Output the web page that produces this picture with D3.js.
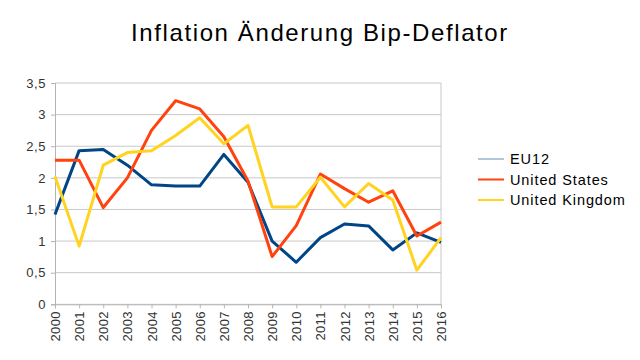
<!DOCTYPE html>
<html><head><meta charset="utf-8">
<script src="https://cdn.jsdelivr.net/npm/d3@7"></script>
<style>body{margin:0;background:#fff}svg{display:block}text{font-family:"Liberation Sans",Arial,sans-serif}</style>
</head><body><svg id="c" width="640" height="360"></svg>
<script>
const years = [2000,2001,2002,2003,2004,2005,2006,2007,2008,2009,2010,2011,2012,2013,2014,2015,2016];
const eu12 = [1.42,2.43,2.45,2.2,1.89,1.87,1.87,2.37,1.93,1.0,0.665,1.055,1.27,1.24,0.86,1.13,0.98];
const us   = [2.28,2.28,1.53,2.0,2.75,3.22,3.09,2.65,1.95,0.755,1.245,2.06,1.83,1.615,1.795,1.08,1.30];
const uk   = [2.02,0.92,2.2,2.4,2.43,2.67,2.95,2.54,2.83,1.54,1.54,2.01,1.54,1.91,1.65,0.54,1.055];
const seriesNames = ["EU12","United States","United Kingdom"];
const colors = ["#004586","#ff420e","#ffd320"];
const yTicks = [0,0.5,1,1.5,2,2.5,3,3.5];
const title = "Inflation Änderung Bip-Deflator";

const svg = d3.select("#c");
const L=55,R=441,T=83,B=304.3;
const x = d3.scalePoint().domain(years).range([L,R]);
const y = d3.scaleLinear().domain([0,3.5]).range([B,T]);

svg.append("text").attr("x",320).attr("y",41).attr("text-anchor","middle")
  .attr("font-size",24).attr("letter-spacing",1.6).attr("fill","#000").text(title);

// grid
svg.append("g").selectAll("line").data(yTicks).join("line")
  .attr("x1",L).attr("x2",R).attr("y1",d=>y(d)).attr("y2",d=>y(d))
  .attr("stroke","#c8c8c8").attr("stroke-width",1);
svg.append("line").attr("x1",R).attr("x2",R).attr("y1",T).attr("y2",B).attr("stroke","#c8c8c8");

const fmt = d=>String(d).replace(".",",");
const ya = svg.append("g").attr("transform",`translate(${L},0)`)
  .call(d3.axisLeft(y).tickValues(yTicks).tickFormat(fmt).tickSize(4).tickPadding(5));
ya.select(".domain").attr("stroke","#b4b4b4");
ya.selectAll(".tick line").attr("stroke","#b4b4b4");
ya.selectAll("text").attr("font-size",13).attr("letter-spacing",0.6).attr("fill","#333").attr("font-family","Liberation Sans, Arial, sans-serif");

const xa = svg.append("g").attr("transform",`translate(0,${B})`)
  .call(d3.axisBottom(x).tickSize(4).tickPadding(3));
xa.select(".domain").attr("stroke","#b4b4b4");
xa.selectAll(".tick line").attr("stroke","#b4b4b4");
xa.selectAll("text").attr("font-size",13).attr("letter-spacing",0.3).attr("fill","#333").attr("font-family","Liberation Sans, Arial, sans-serif")
  .attr("transform","rotate(-90)").attr("text-anchor","end").attr("dy","0.35em").attr("y",0).attr("x",-7);

const data = [eu12,us,uk];
const line = d3.line().x((d,i)=>x(years[i])).y(d=>y(d));
svg.append("g").selectAll("path").data(data).join("path")
  .attr("d",line).attr("fill","none").attr("stroke",(d,i)=>colors[i])
  .attr("stroke-width",3).attr("stroke-linejoin","round");

const lg = svg.append("g").selectAll("g").data(seriesNames).join("g")
  .attr("transform",(d,i)=>`translate(478,${159+i*20.5})`);
lg.append("line").attr("x1",0).attr("x2",26).attr("stroke",(d,i)=>colors[i]).attr("stroke-width",(d,i)=>i===0?1:2).attr("stroke-opacity",(d,i)=>i===0?0.6:1);
lg.append("text").attr("x",32).attr("dy","0.35em").attr("font-size",14.5).attr("letter-spacing",0.9).attr("fill","#000").text(d=>d);
</script></body></html>
